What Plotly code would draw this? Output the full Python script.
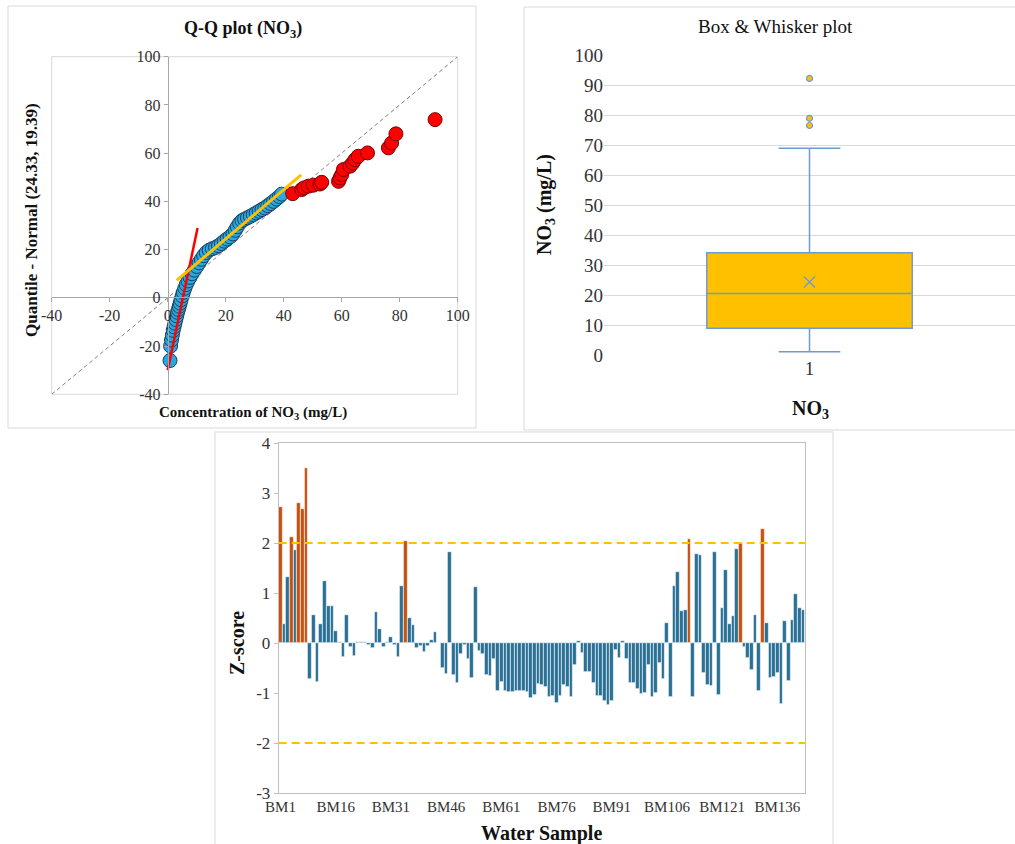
import plotly.graph_objects as go

W, H = 1015, 844
FONT = "Liberation Serif"

# ---------------- Data ----------------
# Q-Q plot (NO3): blue = within-range points, red = high-end points
qq_blue_x = [0.8, 1.0, 1.3, 1.6, 1.9, 2.2, 2.5, 2.8, 3.1, 3.4, 3.7, 4.0, 4.3, 4.6, 5.0,
             5.4, 5.9, 6.4, 7.0, 7.7, 8.4, 9.2, 10.0, 10.8, 11.6, 12.4, 13.3, 14.3, 15.4,
             16.5, 17.5, 18.5, 19.5, 20.5, 21.5, 22.5, 23.3, 24.0, 24.8, 25.6, 26.5, 27.5,
             28.5, 29.5, 30.5, 31.5, 32.5, 33.5, 34.5, 35.5, 36.5, 37.5, 38.5, 39.3]
qq_blue_y = [-26.0, -20.0, -17.5, -15.5, -13.5, -12.0, -10.5, -9.0, -7.5, -6.0, -4.8, -3.5,
             -2.2, -0.8, 0.8, 2.3, 4.0, 5.5, 7.0, 8.5, 10.0, 11.5, 13.0, 14.5, 16.0, 17.5,
             18.8, 19.8, 20.4, 20.9, 21.6, 22.5, 23.5, 24.4, 25.3, 26.5, 28.0, 29.5, 31.0,
             32.0, 32.6, 33.2, 33.8, 34.5, 35.2, 35.9, 36.6, 37.3, 38.2, 39.1, 40.0, 41.0,
             42.0, 43.0]
qq_red_x = [43.1, 46.2, 47.0, 48.5, 50.2, 52.5, 53.1, 58.9, 59.4, 60.0, 60.6, 62.9, 63.8,
            64.6, 65.7, 68.9, 76.1, 77.2, 78.7, 92.2]
qq_red_y = [43.2, 44.9, 45.6, 46.3, 46.7, 47.2, 47.9, 48.3, 49.7, 51.1, 53.2, 54.6, 55.9,
            57.3, 58.7, 60.1, 62.2, 64.2, 68.0, 73.9]
qq_diag = [-40, 100]
red_trend_x = [0.0, 10.3]
red_trend_y = [-30.0, 29.0]
gold_trend_x = [3.1, 46.0]
gold_trend_y = [7.2, 51.0]
qq_ticks = [-40, -20, 0, 20, 40, 60, 80, 100]
qq_tick_text = ["-40", "-20", "0", "20", "40", "60", "80", "100"]

# Box & whisker (NO3, mg/L)
box_category = ["1"]
box_q1 = [8.9]
box_median = [20.5]
box_q3 = [34.1]
box_low = [1.1]
box_high = [68.9]
box_mean = [24.33]
box_outliers = [92.2, 78.9, 76.5]

# Z-scores per water sample
z_scores = [
    2.73, 0.38, 1.32, 2.12, 1.87, 2.81, 2.68, 3.50, -0.71, 0.56,
    -0.77, 0.39, 1.24, 0.75, 0.75, 0.24, 0.02, -0.27, 0.56, -0.08,
    -0.25, 0.03, 0.02, 0.02, -0.04, -0.10, 0.63, 0.29, -0.08, 0.03,
    0.12, -0.03, -0.28, 1.15, 2.05, 0.51, 0.36, -0.10, -0.06, -0.17,
    -0.06, 0.07, 0.22, 0.01, -0.50, -0.61, 1.82, -0.64, -0.80, -0.22,
    -0.04, -0.32, -0.70, 1.13, -0.15, -0.21, -0.63, -0.65, -0.31, -0.95,
    -0.77, -0.95, -0.98, -0.97, -0.95, -0.95, -0.95, -0.97, -1.09, -1.03,
    -0.81, -0.84, -0.87, -1.08, -1.05, -1.19, -1.05, -0.84, -0.87, -1.07,
    -0.43, 0.04, -0.19, -0.58, -0.58, -0.79, -1.06, -1.06, -1.16, -1.23,
    -1.16, -0.13, -0.30, 0.05, -0.31, -0.79, -0.80, -0.91, -1.01, -1.00,
    -0.43, -1.08, -1.00, -0.40, -0.72, 0.40, -1.07, 1.15, 1.43, 0.65,
    0.67, 2.08, -1.07, 1.79, 1.77, -0.59, -0.83, -0.85, 1.83, -1.04,
    0.70, 1.47, 0.38, 0.55, 1.88, 2.00, -0.07, -0.29, -0.53, 0.57,
    -0.95, 2.29, 0.40, -0.70, -0.67, -0.60, -1.21, 0.45, -0.75, 0.47,
    0.99, 0.71, 0.67,
]
sample_ids = ["BM%d" % (i + 1) for i in range(len(z_scores))]
tick_samples = ["BM1", "BM16", "BM31", "BM46", "BM61", "BM76", "BM91",
                "BM106", "BM121", "BM136"]
z_ticks = [-3, -2, -1, 0, 1, 2, 3, 4]
z_tick_text = ["-3", "-2", "-1", "0", "1", "2", "3", "4"]
z_limits = [2, -2]

# ---------------- Helpers ----------------
def fx(px):
    return px / W


def fy(py):
    return 1 - py / H


BLUE_BAR = "#2B7196"
ORANGE_BAR = "#C65314"
GOLD = "#FFC000"
BOX_LINE = "#6F9CD0"
FRAME = "#D9D9D9"

fig = go.Figure()

# ---------------- Q-Q plot ----------------
fig.add_trace(go.Scatter(x=qq_diag, y=qq_diag, mode="lines",
                         line=dict(color="#7F7F7F", width=1, dash="4px,3px"),
                         xaxis="x", yaxis="y", showlegend=False, hoverinfo="skip"))
fig.add_trace(go.Scatter(x=qq_blue_x, y=qq_blue_y, mode="markers",
                         marker=dict(size=14, color="#29A8E0",
                                     line=dict(color="#1B3F5E", width=1)),
                         xaxis="x", yaxis="y", showlegend=False))
fig.add_trace(go.Scatter(x=qq_red_x, y=qq_red_y, mode="markers",
                         marker=dict(size=14, color="#FF0000",
                                     line=dict(color="#7A0000", width=1)),
                         xaxis="x", yaxis="y", showlegend=False))
fig.add_trace(go.Scatter(x=red_trend_x, y=red_trend_y, mode="lines",
                         line=dict(color="#FF0000", width=2.5),
                         xaxis="x", yaxis="y", showlegend=False))
fig.add_trace(go.Scatter(x=gold_trend_x, y=gold_trend_y, mode="lines",
                         line=dict(color=GOLD, width=3),
                         xaxis="x", yaxis="y", showlegend=False))

# ---------------- Box plot ----------------
fig.add_trace(go.Box(x=box_category, q1=box_q1, median=box_median, q3=box_q3,
                     lowerfence=box_low, upperfence=box_high,
                     fillcolor=GOLD, line=dict(color=BOX_LINE, width=1.5),
                     whiskerwidth=0.3, width=0.5, boxpoints=False,
                     xaxis="x2", yaxis="y2", showlegend=False))
fig.add_trace(go.Scatter(x=box_category, y=box_mean, mode="markers",
                         marker=dict(symbol="x-thin", size=11,
                                     line=dict(color=BOX_LINE, width=1.5)),
                         xaxis="x2", yaxis="y2", showlegend=False))
fig.add_trace(go.Scatter(x=box_category * len(box_outliers), y=box_outliers,
                         mode="markers",
                         marker=dict(symbol="circle", size=6, color=GOLD,
                                     line=dict(color=BOX_LINE, width=1.2)),
                         xaxis="x2", yaxis="y2", showlegend=False))

# ---------------- Z-score bars ----------------
bar_colors = [ORANGE_BAR if v >= 2 else BLUE_BAR for v in z_scores]
fig.add_trace(go.Bar(x=sample_ids, y=z_scores,
                     marker=dict(color=bar_colors, line=dict(color="white", width=0.6)),
                     xaxis="x3", yaxis="y3", showlegend=False))

tick_font_qq = dict(family=FONT, size=16, color="#333333")
tick_font_box = dict(family=FONT, size=19, color="#333333")
tick_font_bar = dict(family=FONT, size=17, color="#333333")

fig.update_layout(
    width=W, height=H, autosize=False,
    margin=dict(l=0, r=0, t=0, b=0, pad=0),
    paper_bgcolor="white", plot_bgcolor="rgba(0,0,0,0)",
    font=dict(family=FONT, color="#222222"),
    bargap=0,
    xaxis=dict(domain=[fx(51.7), fx(457.7)], range=[-40, 100], automargin=False,
               tickmode="array", tickvals=qq_ticks, ticktext=qq_tick_text,
               anchor="free", position=fy(296.7), showline=True, linecolor="#A6A6A6",
               ticks="outside", ticklen=4, tickcolor="#A6A6A6", showgrid=False,
               zeroline=False, tickfont=tick_font_qq),
    yaxis=dict(domain=[fy(394.3), fy(56.7)], range=[-40, 100], automargin=False,
               tickmode="array", tickvals=qq_ticks, ticktext=qq_tick_text,
               anchor="free", position=fx(167.7), showline=True, linecolor="#A6A6A6",
               ticks="outside", ticklen=4, tickcolor="#A6A6A6", showgrid=False,
               zeroline=False, tickfont=tick_font_qq),
    xaxis2=dict(domain=[fx(604), 1.0], anchor="y2", type="category", range=[-0.5, 0.5],
                automargin=False, showline=False, ticks="", showgrid=False,
                zeroline=False, tickfont=tick_font_box),
    yaxis2=dict(domain=[fy(355), fy(55)], anchor="x2", range=[0, 100], dtick=10,
                automargin=False, showgrid=True, gridcolor="#D9D9D9", gridwidth=1,
                zeroline=False, showline=False, ticks="", tickfont=tick_font_box),
    xaxis3=dict(domain=[fx(278.7), fx(805)], anchor="y3", type="category",
                range=[-0.5, len(z_scores) - 0.5], tickvals=tick_samples,
                ticktext=tick_samples, ticks="", showgrid=False, zeroline=False,
                automargin=False, showline=True, mirror=True, linecolor="#BFBFBF",
                tickfont=dict(family=FONT, size=15, color="#333333")),
    yaxis3=dict(domain=[fy(793), fy(443)], anchor="x3", range=[-3, 4],
                tickmode="array", tickvals=z_ticks, ticktext=z_tick_text,
                automargin=False, ticks="outside", ticklen=4, tickcolor="#BFBFBF",
                showline=True, mirror=True, linecolor="#BFBFBF", showgrid=False,
                zeroline=False, tickfont=tick_font_bar),
)

shapes = []
# Q-Q plot area border
shapes.append(dict(type="rect", xref="x domain", yref="y domain", x0=0, x1=1, y0=0, y1=1,
                   line=dict(color="#D9D9D9", width=1), layer="below"))
# Z-score limit lines
for z in z_limits:
    shapes.append(dict(type="line", xref="x3 domain", yref="y3", x0=0, x1=1, y0=z, y1=z,
                       line=dict(color=GOLD, width=2, dash="8px,5px")))
# Panel frames
frame_line = dict(color=FRAME, width=1)
shapes.append(dict(type="rect", xref="paper", yref="paper", x0=fx(8), x1=fx(476),
                   y0=fy(428), y1=fy(6), line=frame_line))
shapes.append(dict(type="line", xref="paper", yref="paper", x0=fx(524), x1=fx(524),
                   y0=fy(430), y1=fy(7), line=frame_line))
shapes.append(dict(type="line", xref="paper", yref="paper", x0=fx(524), x1=1,
                   y0=fy(7), y1=fy(7), line=frame_line))
shapes.append(dict(type="line", xref="paper", yref="paper", x0=fx(524), x1=1,
                   y0=fy(430), y1=fy(430), line=frame_line))
shapes.append(dict(type="line", xref="paper", yref="paper", x0=fx(215), x1=fx(215),
                   y0=0, y1=fy(432), line=frame_line))
shapes.append(dict(type="line", xref="paper", yref="paper", x0=fx(215), x1=fx(833),
                   y0=fy(432), y1=fy(432), line=frame_line))
shapes.append(dict(type="line", xref="paper", yref="paper", x0=fx(833), x1=fx(833),
                   y0=0, y1=fy(432), line=frame_line))
fig.update_layout(shapes=shapes)


def ann(text, px, py, size, angle=0):
    return dict(text=text, x=fx(px), y=fy(py), xref="paper", yref="paper",
                xanchor="center", yanchor="middle", showarrow=False, textangle=angle,
                font=dict(family=FONT, size=size, color="#111111"))


fig.update_layout(annotations=[
    ann("<b>Q-Q plot (NO<sub>3</sub>)</b>", 243, 29, 18),
    ann("<b>Concentration of NO<sub>3</sub> (mg/L)</b>", 253, 413, 15),
    ann("<b>Quantile - Normal (24.33, 19.39)</b>", 31, 220, 17, -90),
    ann("Box &amp; Whisker plot", 775, 27, 19),
    ann("<b>NO<sub>3</sub></b>", 810, 410, 20),
    ann("<b>NO<sub>3</sub> (mg/L)</b>", 546, 205, 20, -90),
    ann("<b>Z-score</b>", 237, 643, 20, -90),
    ann("<b>Water Sample</b>", 541, 833, 20),
])

fig.write_html(
    "out.html",
    config={"responsive": False, "displayModeBar": False},
    post_script="document.body.style.margin='0';document.body.style.padding='0';"
                "document.body.style.overflow='hidden';",
)
